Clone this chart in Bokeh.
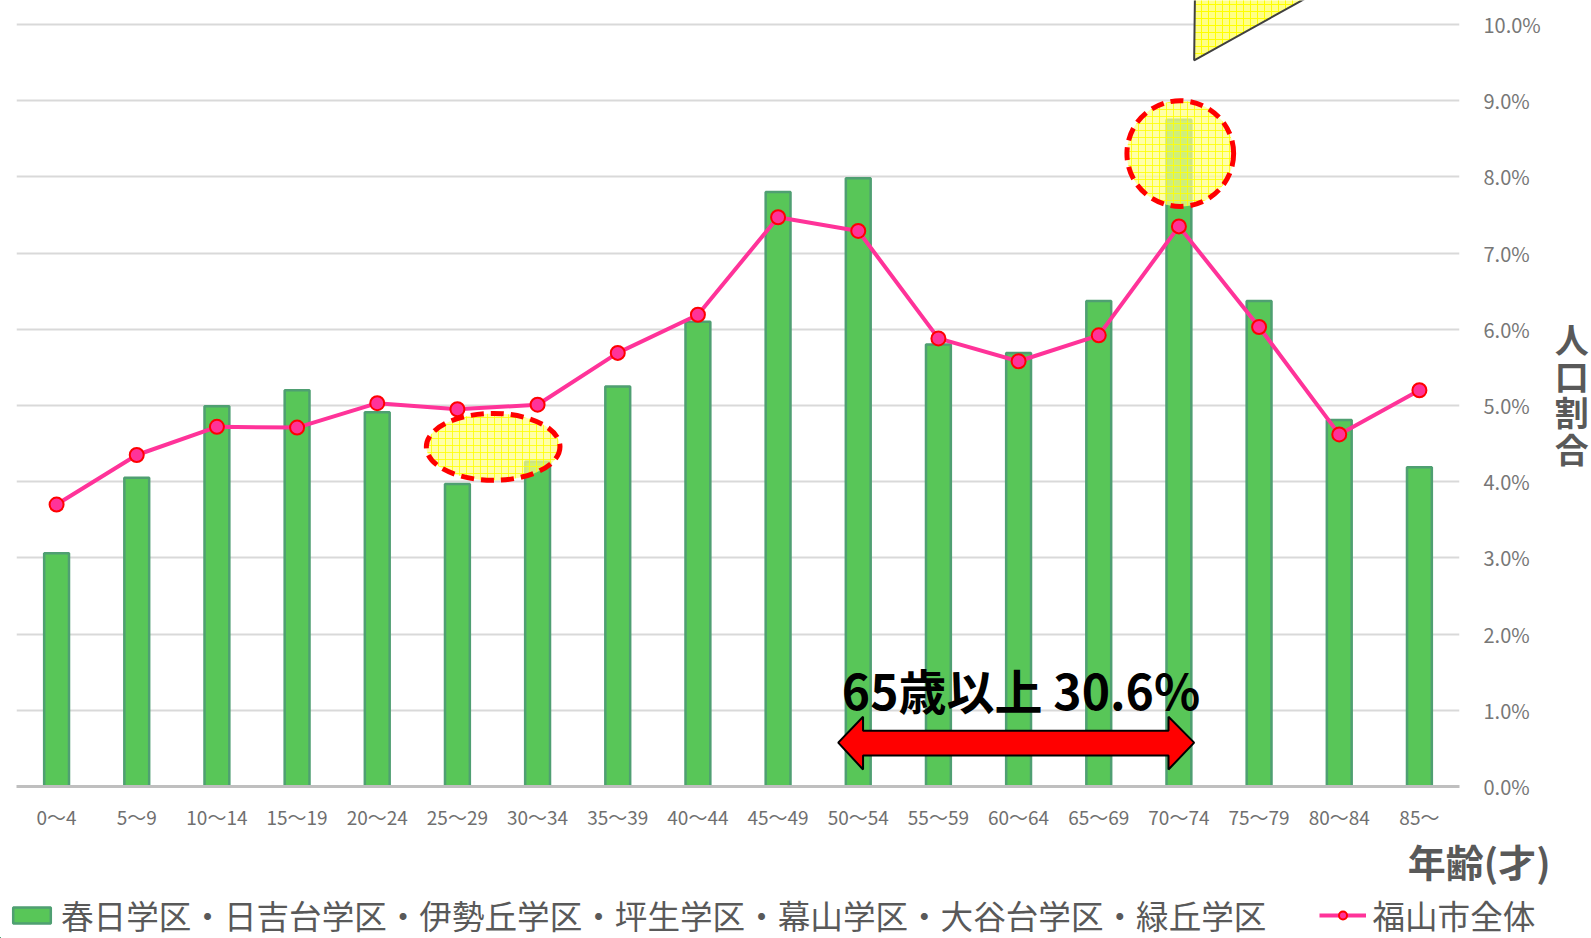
from bokeh.plotting import figure
from bokeh.layouts import column
from bokeh.models import (Range1d, FixedTicker, PrintfTickFormatter, Label, Legend, LegendItem,
                          ColumnDataSource)
from bokeh.embed import file_html
from bokeh.resources import INLINE

# ---------------- data ----------------
age_groups = ["0～4", "5～9", "10～14", "15～19", "20～24", "25～29", "30～34", "35～39",
              "40～44", "45～49", "50～54", "55～59", "60～64", "65～69", "70～74", "75～79",
              "80～84", "85～"]
district_share = [3.06, 4.05, 4.99, 5.20, 4.91, 3.97, 4.26, 5.25, 6.10, 7.80, 7.98, 5.80,
                  5.69, 6.37, 8.75, 6.37, 4.81, 4.19]
city_share = [3.70, 4.35, 4.72, 4.71, 5.03, 4.95, 5.01, 5.69, 6.19, 7.47, 7.29, 5.88,
              5.58, 5.92, 7.35, 6.03, 4.62, 5.20]
y_ticks = [0, 1, 2, 3, 4, 5, 6, 7, 8, 9, 10]
district_label = "春日学区・日吉台学区・伊勢丘学区・坪生学区・幕山学区・大谷台学区・緑丘学区"
city_label = "福山市全体"
annotation_text = "65歳以上 30.6%"
x_title = "年齢(才)"
y_title = "人口割合"

FONT = "Noto Sans CJK JP"
idx = list(range(len(age_groups)))

BAR_STYLE = dict(fill_color="#58c658", line_color="#4f9f72", line_width=2.5)
LINE_STYLE = dict(line_color="#ff3399", line_width=4)
PT_STYLE = dict(size=14, fill_color="#ff3399", line_color="#ff0000", line_width=2)

src = ColumnDataSource(dict(x=idx, d=district_share, c=city_share))

# ---------------- main chart ----------------
p = figure(width=1591, height=832, output_backend="svg", toolbar_location=None,
           x_range=Range1d(-0.5, len(age_groups) - 0.5), y_range=Range1d(0, 10.314),
           y_axis_location="right", min_border_left=16, min_border_right=128,
           min_border_top=0, min_border_bottom=44)
p.outline_line_color = None
p.background_fill_color = "white"
p.border_fill_color = "white"

xa = p.xaxis[0]
xa.ticker = FixedTicker(ticks=idx)
xa.major_label_overrides = {i: lab for i, lab in zip(idx, age_groups)}
xa.axis_line_color = "#bfbfbf"
xa.axis_line_width = 3
xa.major_tick_line_color = None
xa.minor_tick_line_color = None
xa.major_tick_out = 0
xa.major_tick_in = 0
xa.minor_tick_out = 0
xa.major_label_standoff = 16
xa.major_label_text_font = FONT
xa.major_label_text_font_size = "19px"
xa.major_label_text_color = "#6f6f6f"

ya = p.yaxis[0]
ya.ticker = FixedTicker(ticks=y_ticks)
ya.formatter = PrintfTickFormatter(format="%.1f%%")
ya.axis_line_color = None
ya.major_tick_line_color = None
ya.minor_tick_line_color = None
ya.major_tick_out = 0
ya.major_tick_in = 0
ya.minor_tick_out = 0
ya.major_label_standoff = 24
ya.major_label_text_font = FONT
ya.major_label_text_font_size = "20px"
ya.major_label_text_color = "#777777"
try:
    ya.axis_label_orientation = "horizontal"
    ya.axis_label = "\n".join(y_title)
    ya.axis_label_text_line_height = 0.75
except Exception:
    ya.axis_label = y_title
ya.axis_label_standoff = 11
ya.axis_label_text_font = FONT
ya.axis_label_text_font_size = "34px"
ya.axis_label_text_font_style = "bold"
ya.axis_label_text_color = "#595959"

p.xgrid.visible = False
p.ygrid.grid_line_color = "#d9d9d9"
p.ygrid.grid_line_width = 2

p.vbar(x="x", top="d", width=0.31, source=src, **BAR_STYLE)

# highlight ellipses (decorations)
p.ellipse(x=[5.446, 14.017], y=[4.457, 8.305], width=[1.667, 1.331], height=[0.877, 1.387],
          fill_color="#ffff88", fill_alpha=0.72, hatch_pattern="+", hatch_color="#ffff00",
          hatch_scale=7, hatch_weight=1, hatch_alpha=0.8,
          line_color="#ff0000", line_width=5, line_dash="13 7")

# callout tail at top
p.patch(x=[14.20, 14.19, 15.68], y=[10.40, 9.529, 10.40], fill_color="#ffff88",
        hatch_pattern="+", hatch_color="#ffff00", hatch_scale=7, hatch_weight=1,
        line_color="#404040", line_width=2)

p.line(x="x", y="c", source=src, **LINE_STYLE)
p.scatter(x="x", y="c", source=src, **PT_STYLE)

# double arrow
p.patch(x=[9.75, 10.06, 10.06, 13.87, 13.87, 14.19, 13.87, 13.87, 10.06, 10.06],
        y=[0.576, 0.916, 0.733, 0.733, 0.916, 0.576, 0.2225, 0.406, 0.406, 0.2225],
        fill_color="#ff0000", line_color="#000000", line_width=2)

p.add_layout(Label(x=12.03, y=1.28, text=annotation_text, text_align="center",
                   text_baseline="alphabetic", text_font=FONT, text_font_size="48px",
                   text_font_style="bold", text_color="#000000"))

# ---------------- strip below: x title + legend ----------------
# the legend's glyphs come from renderers of the real data, kept out of this strip's view
p2 = figure(width=1591, height=106, output_backend="svg", toolbar_location=None,
            x_range=Range1d(100, 101), y_range=Range1d(100, 101),
            x_axis_type=None, y_axis_type=None,
            min_border_left=0, min_border_right=0, min_border_top=0, min_border_bottom=0)
try:
    p2.frame_align = False
except Exception:
    pass
p2.outline_line_color = None
p2.grid.visible = False
p2.background_fill_color = "white"
p2.border_fill_color = "white"

lg_bar = p2.vbar(x="x", top="d", width=0.31, source=src, **BAR_STYLE)
lg_line = p2.line(x="x", y="c", source=src, **LINE_STYLE)
lg_pts = p2.scatter(x="x", y="c", source=src, **PT_STYLE)

p2.add_layout(Label(x=1550, y=78, x_units="screen", y_units="screen", text=x_title,
                    text_align="right", text_baseline="middle", text_font=FONT,
                    text_font_size="38px", text_font_style="bold", text_color="#595959"))

legend = Legend(items=[LegendItem(label=district_label, renderers=[lg_bar]),
                       LegendItem(label=city_label, renderers=[lg_line, lg_pts])],
                location=(8, 0), orientation="horizontal", glyph_width=47, glyph_height=20,
                label_standoff=6, spacing=53, padding=0, margin=0,
                border_line_color=None, background_fill_alpha=0,
                label_text_font=FONT, label_text_font_size="32.6px",
                label_text_color="#595959", label_height=36)
p2.add_layout(legend)

layout = column(p, p2, spacing=0)
open("out.html", "w").write(file_html(layout, INLINE))
